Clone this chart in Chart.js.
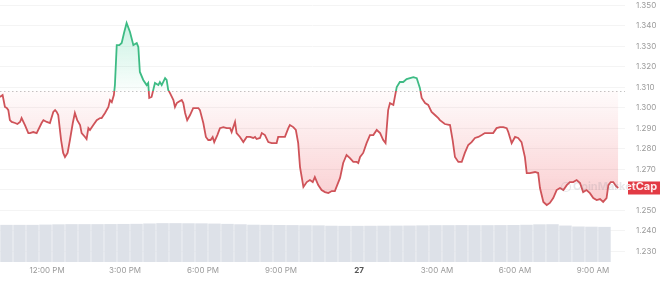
<!DOCTYPE html>
<html>
<head>
<meta charset="utf-8">
<script src="https://cdn.jsdelivr.net/npm/chart.js@4.4.0/dist/chart.umd.min.js"></script>
<style>
html, body { margin: 0; padding: 0; background: #fff; }
#wrap { width: 660px; height: 284px; }
</style>
</head>
<body>
<div id="wrap"><canvas id="priceChart"></canvas></div>
<script>
// hours counted from midnight of the 26th (24 = midnight, the "27" tick)
var times = [
  10.19,10.29,10.38,10.45,10.51,10.57,10.64,10.77,10.86,10.96,
  11.02,11.15,11.28,11.34,11.47,11.60,11.79,11.86,11.99,12.11,
  12.24,12.31,12.37,12.43,12.54,12.62,12.69,12.79,12.88,12.99,
  13.07,13.16,13.27,13.33,13.46,13.52,13.59,13.65,13.78,13.91,
  14.04,14.10,14.23,14.36,14.42,14.49,14.57,14.61,14.68,14.78,
  14.87,14.96,15.06,15.19,15.32,15.45,15.51,15.57,15.70,15.83,
  15.89,15.93,16.02,16.15,16.28,16.34,16.41,16.54,16.60,16.66,
  16.73,16.86,16.92,16.99,17.05,17.18,17.24,17.31,17.39,17.50,
  17.62,17.82,17.88,18.01,18.11,18.20,18.29,18.37,18.43,18.55,
  18.65,18.78,18.91,19.04,19.10,19.23,19.29,19.42,19.55,19.68,
  19.81,19.93,20.00,20.06,20.19,20.26,20.38,20.51,20.64,20.83,
  20.89,21.02,21.15,21.28,21.34,21.47,21.57,21.66,21.73,21.86,
  21.99,22.11,22.22,22.30,22.43,22.56,22.69,22.82,22.95,23.07,
  23.16,23.27,23.39,23.52,23.65,23.78,23.91,23.97,24.04,24.16,
  24.29,24.42,24.55,24.68,24.81,24.93,25.02,25.12,25.19,25.32,
  25.45,25.57,25.70,25.83,25.96,26.09,26.22,26.34,26.41,26.54,
  26.66,26.79,26.92,27.05,27.11,27.30,27.50,27.60,27.69,27.82,
  27.95,28.07,28.20,28.33,28.46,28.59,28.72,28.84,29.04,29.16,
  29.29,29.42,29.55,29.68,29.74,29.87,30.00,30.12,30.25,30.38,
  30.45,30.57,30.77,30.89,30.96,31.09,31.22,31.34,31.47,31.60,
  31.73,31.86,31.99,32.11,32.24,32.37,32.50,32.62,32.75,32.88,
  33.01,33.14,33.27,33.39,33.52,33.59,33.68,33.78,33.88,33.97
];
var prices = [
  1.3053,1.3062,1.3004,1.2999,1.2989,1.2940,1.2931,1.2926,1.2921,1.2931,
  1.2950,1.2916,1.2877,1.2877,1.2882,1.2877,1.2926,1.2940,1.2931,1.2926,
  1.2980,1.2989,1.2980,1.2965,1.2843,1.2780,1.2760,1.2780,1.2843,1.2926,
  1.2975,1.2940,1.2916,1.2877,1.2858,1.2848,1.2901,1.2892,1.2916,1.2940,
  1.2950,1.2950,1.2975,1.3004,1.3038,1.3028,1.3062,1.3111,1.3306,1.3306,
  1.3316,1.3365,1.3414,1.3370,1.3306,1.3316,1.3297,1.3175,1.3136,1.3111,
  1.3121,1.3048,1.3053,1.3121,1.3111,1.3126,1.3111,1.3145,1.3136,1.3087,
  1.3072,1.3038,1.3004,1.3023,1.3028,1.3038,1.3023,1.2975,1.2940,1.2965,
  1.2999,1.2999,1.2989,1.2926,1.2858,1.2843,1.2843,1.2858,1.2833,1.2867,
  1.2901,1.2906,1.2901,1.2901,1.2882,1.2931,1.2877,1.2858,1.2833,1.2858,
  1.2858,1.2853,1.2858,1.2848,1.2853,1.2877,1.2867,1.2833,1.2828,1.2828,
  1.2858,1.2858,1.2858,1.2901,1.2916,1.2906,1.2892,1.2828,1.2711,1.2614,
  1.2638,1.2648,1.2638,1.2662,1.2623,1.2599,1.2589,1.2584,1.2594,1.2594,
  1.2623,1.2658,1.2731,1.2770,1.2755,1.2736,1.2736,1.2731,1.2760,1.2780,
  1.2828,1.2867,1.2867,1.2892,1.2877,1.2843,1.2828,1.2989,1.3023,1.3014,
  1.3101,1.3126,1.3126,1.3140,1.3145,1.3150,1.3145,1.3097,1.3048,1.3023,
  1.3014,1.2980,1.2965,1.2950,1.2940,1.2921,1.2916,1.2843,1.2760,1.2736,
  1.2736,1.2780,1.2819,1.2833,1.2853,1.2858,1.2867,1.2877,1.2877,1.2877,
  1.2901,1.2906,1.2906,1.2901,1.2882,1.2828,1.2858,1.2853,1.2833,1.2760,
  1.2682,1.2682,1.2687,1.2682,1.2609,1.2541,1.2526,1.2536,1.2560,1.2599,
  1.2609,1.2599,1.2623,1.2638,1.2638,1.2648,1.2633,1.2589,1.2599,1.2584,
  1.2560,1.2550,1.2555,1.2541,1.2560,1.2623,1.2638,1.2638,1.2619,1.2609
];
// 24h volume (millions), one bar per half hour starting 10:26
var volumes = [
  97.8,97.8,97.8,98.5,99.2,99.7,99.7,99.7,99.9,100.2,
  100.5,101.5,102.3,102.3,102.0,101.8,101.2,100.4,99.4,98.2,
  97.8,97.5,97.2,96.8,96.5,95.5,95.2,95.2,95.4,95.6,
  95.8,96.0,96.5,97.0,97.0,97.2,97.0,97.0,97.2,97.5,
  98.0,99.2,99.5,96.0,93.5,93.0,92.5
];
var volStart = 10.44;
var baseline = 1.3083;
var tickHours = [12, 15, 18, 21, 24, 27, 30, 33];
var tickLabels = ["12:00 PM", "3:00 PM", "6:00 PM", "9:00 PM", "27", "3:00 AM", "6:00 AM", "9:00 AM"];
var priceTicks = [1.23, 1.24, 1.25, 1.26, 1.27, 1.28, 1.29, 1.30, 1.31, 1.32, 1.33, 1.34, 1.35];

var green = '#3dbb84';
var red = '#cf5359';

var pricePoints = times.map(function(t, i) { return {x: t, y: prices[i]}; });
var volPoints = volumes.map(function(v, i) { return {x: volStart + i * 0.5, y: v}; });

function baseFrac(chart) {
    var area = chart.chartArea;
    var y = chart.scales.y.getPixelForValue(baseline);
    return Math.min(Math.max((y - area.top) / (area.bottom - area.top), 0), 1);
}

function lineColor(ctx) {
    var chart = ctx.chart;
    if (!chart.chartArea) return red;
    var area = chart.chartArea;
    var f = baseFrac(chart);
    var g = chart.ctx.createLinearGradient(0, area.top, 0, area.bottom);
    g.addColorStop(0, green);
    g.addColorStop(f, green);
    g.addColorStop(Math.min(f + 0.001, 1), red);
    g.addColorStop(1, red);
    return g;
}

function fillColor(ctx) {
    var chart = ctx.chart;
    if (!chart.chartArea) return 'rgba(234,57,67,0.1)';
    var area = chart.chartArea;
    var f = baseFrac(chart);
    var g = chart.ctx.createLinearGradient(0, area.top, 0, area.bottom);
    g.addColorStop(0, 'rgba(22,199,132,0.30)');
    g.addColorStop(f, 'rgba(22,199,132,0.02)');
    g.addColorStop(Math.min(f + 0.001, 1), 'rgba(234,57,67,0.02)');
    g.addColorStop(0.8, 'rgba(234,57,67,0.26)');
    g.addColorStop(1, 'rgba(234,57,67,0.30)');
    return g;
}

// dotted open-price line
var baselinePlugin = {
    id: 'baseline',
    beforeDatasetsDraw: function(chart) {
        var c = chart.ctx, a = chart.chartArea;
        var y = Math.round(chart.scales.y.getPixelForValue(baseline)) + 0.5;
        c.save();
        c.strokeStyle = '#c4c4c4';
        c.lineWidth = 1;
        c.setLineDash([1.5, 2.5]);
        c.beginPath();
        c.moveTo(a.left, y);
        c.lineTo(a.right, y);
        c.stroke();
        c.restore();
    }
};

// watermark + last price tag
var tagPlugin = {
    id: 'tag',
    afterDraw: function(chart) {
        var c = chart.ctx, a = chart.chartArea;
        var last = prices[prices.length - 1];
        var y = chart.scales.y.getPixelForValue(last);
        var wx = a.right - 52, wy = y - 1;
        function mark(color) {
            c.strokeStyle = color;
            c.fillStyle = color;
            c.lineWidth = 1.2;
            c.beginPath();
            c.arc(wx - 7, wy, 4.5, 0, Math.PI * 2);
            c.stroke();
            c.font = 'bold 11px Inter, sans-serif';
            c.textBaseline = 'middle';
            c.textAlign = 'left';
            c.fillText('CoinMarketCap', wx, wy);
        }
        c.save();
        mark('rgba(140,140,150,0.2)');
        var bx = a.right + 3;
        c.fillStyle = '#e23a44';
        c.fillRect(bx, y - 6.5, chart.width - bx, 13);
        c.beginPath();
        c.rect(bx, y - 6.5, chart.width - bx, 13);
        c.clip();
        mark('rgba(255,255,255,0.9)');
        c.restore();
    }
};

new Chart(document.getElementById('priceChart'), {
    type: 'line',
    data: {
        datasets: [
            {
                label: 'Price',
                data: pricePoints,
                yAxisID: 'y',
                borderColor: lineColor,
                backgroundColor: fillColor,
                borderWidth: 1.8,
                pointRadius: 0,
                tension: 0,
                fill: {value: baseline},
                order: 1
            },
            {
                type: 'bar',
                label: 'Volume',
                data: volPoints,
                yAxisID: 'vol',
                backgroundColor: '#dde1e8',
                barPercentage: 1,
                categoryPercentage: 0.96,
                order: 2
            }
        ]
    },
    options: {
        responsive: true,
        maintainAspectRatio: false,
        animation: false,
        layout: {padding: 0},
        plugins: {
            legend: {display: false},
            tooltip: {enabled: false}
        },
        scales: {
            x: {
                type: 'linear',
                offset: false,
                min: 10.19,
                max: 34.23,
                afterBuildTicks: function(scale) {
                    scale.ticks = tickHours.map(function(v) { return {value: v}; });
                },
                afterFit: function(scale) {
                    scale.height = 22;
                    scale.paddingLeft = 0;
                    scale.paddingRight = 0;
                },
                grid: {display: false, drawTicks: false},
                border: {display: false},
                ticks: {
                    autoSkip: false,
                    maxRotation: 0,
                    padding: 4,
                    font: function(ctx) {
                        return {family: 'Inter, sans-serif', size: 8, weight: ctx.tick && ctx.tick.value === 24 ? 'bold' : 'normal'};
                    },
                    color: function(ctx) { return ctx.tick && ctx.tick.value === 24 ? '#555' : '#9a9a9a'; },
                    callback: function(v) { return tickLabels[tickHours.indexOf(v)]; }
                }
            },
            y: {
                position: 'right',
                min: 1.2248,
                max: 1.3526,
                afterBuildTicks: function(scale) {
                    scale.ticks = priceTicks.map(function(v) { return {value: v}; });
                },
                afterFit: function(scale) {
                    scale.width = 35;
                    scale.paddingTop = 0;
                    scale.paddingBottom = 0;
                },
                grid: {color: '#f4f4f4', drawTicks: false},
                border: {display: false},
                ticks: {
                    padding: 11,
                    font: {family: 'Inter, sans-serif', size: 8},
                    color: '#9a9a9a',
                    callback: function(v) { return v.toFixed(3); }
                }
            },
            vol: {
                display: false,
                min: 0,
                max: 690
            }
        }
    },
    plugins: [baselinePlugin, tagPlugin]
});
</script>
</body>
</html>
